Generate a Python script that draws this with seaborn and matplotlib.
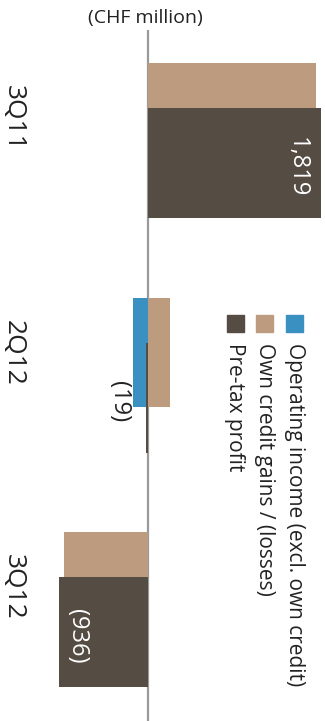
import pandas as pd
import matplotlib.pyplot as plt
from matplotlib.patches import Rectangle
import seaborn as sns

# Data (CHF million)
quarters = ['3Q11', '2Q12', '3Q12']
operating_income = [0, -155, 0]
own_credit = [1765, 230, -885]
pretax_profit = [1819, -19, -936]
pretax_labels = ['1,819', '(19)', '(936)']

legend_labels = ['Operating income (excl. own credit)',
                 'Own credit gains / (losses)',
                 'Pre-tax profit']

c_blue = '#3b90c2'
c_tan = '#bd9b7f'
c_dark = '#554c43'
c_text = '#222222'

W, H = 325, 721

sns.set_style('white')
plt.rcParams['font.family'] = ['Open Sans', 'DejaVu Sans']

def fx(x):
    return x / W

def fy(y):
    return 1 - y / H

pos = list(range(len(quarters)))
dark_shift = 0.192
bar_w = 0.469

df_top = pd.DataFrame({'pos': pos, 'oi': operating_income, 'oc': own_credit})
df_dark = pd.DataFrame({'pos': [p + dark_shift for p in pos], 'pt': pretax_profit})

fig = plt.figure(figsize=(W / 100, H / 100), dpi=100)
ax = fig.add_axes([fx(40), 0, 1 - fx(40), 1 - 30 / H])

sns.barplot(data=df_top, x='oc', y='pos', orient='h', native_scale=True,
            color=c_tan, saturation=1, width=bar_w, errorbar=None,
            linewidth=0, ax=ax)
sns.barplot(data=df_top, x='oi', y='pos', orient='h', native_scale=True,
            color=c_blue, saturation=1, width=bar_w, errorbar=None,
            linewidth=0, ax=ax)
sns.barplot(data=df_dark, x='pt', y='pos', orient='h', native_scale=True,
            color=c_dark, saturation=1, width=bar_w, errorbar=None,
            linewidth=0, ax=ax)

# zero line sits behind the bars
ax.axvline(0, color='#9a9a9a', lw=1.6, zorder=0.5)

px_per_unit = 173 / 1819
ax.set_xlim(-108 / px_per_unit, 177 / px_per_unit)
ax.set_ylim(603 / 234.5, -88 / 234.5)

ax.set_xticks([])
ax.set_yticks(pos)
ax.set_yticklabels(quarters, rotation=-90, va='center', fontsize=19, color=c_text)
ax.tick_params(axis='y', length=0, pad=10)
ax.set_xlabel('')
ax.set_ylabel('')
for s in ax.spines.values():
    s.set_visible(False)

# value labels on pre-tax bars
offsets = [-24, -27, 18]
colors = ['white', c_text, 'white']
for p, v, lab, off, col in zip(pos, pretax_profit, pretax_labels, offsets, colors):
    ax.annotate(lab, xy=(v, p + dark_shift), xytext=(off, -4), textcoords='offset pixels',
                rotation=-90, ha='center', va='center', fontsize=17, color=col,
                zorder=6)

fig.text(fx(145), fy(18), '(CHF million)', ha='center', va='center',
         fontsize=14, color=c_text)

# legend drawn by hand (rotated)
leg_x = [294, 264, 235]
for x, lab, col in zip(leg_x, legend_labels, [c_blue, c_tan, c_dark]):
    fig.patches.append(Rectangle((fx(x - 8.5), fy(332)), 17 / W, 17 / H,
                                 transform=fig.transFigure, color=col))
    fig.text(fx(x), fy(343), lab, rotation=-90, ha='center', va='top',
             fontsize=15, color=c_text)

fig.savefig('out.png', dpi=100)
